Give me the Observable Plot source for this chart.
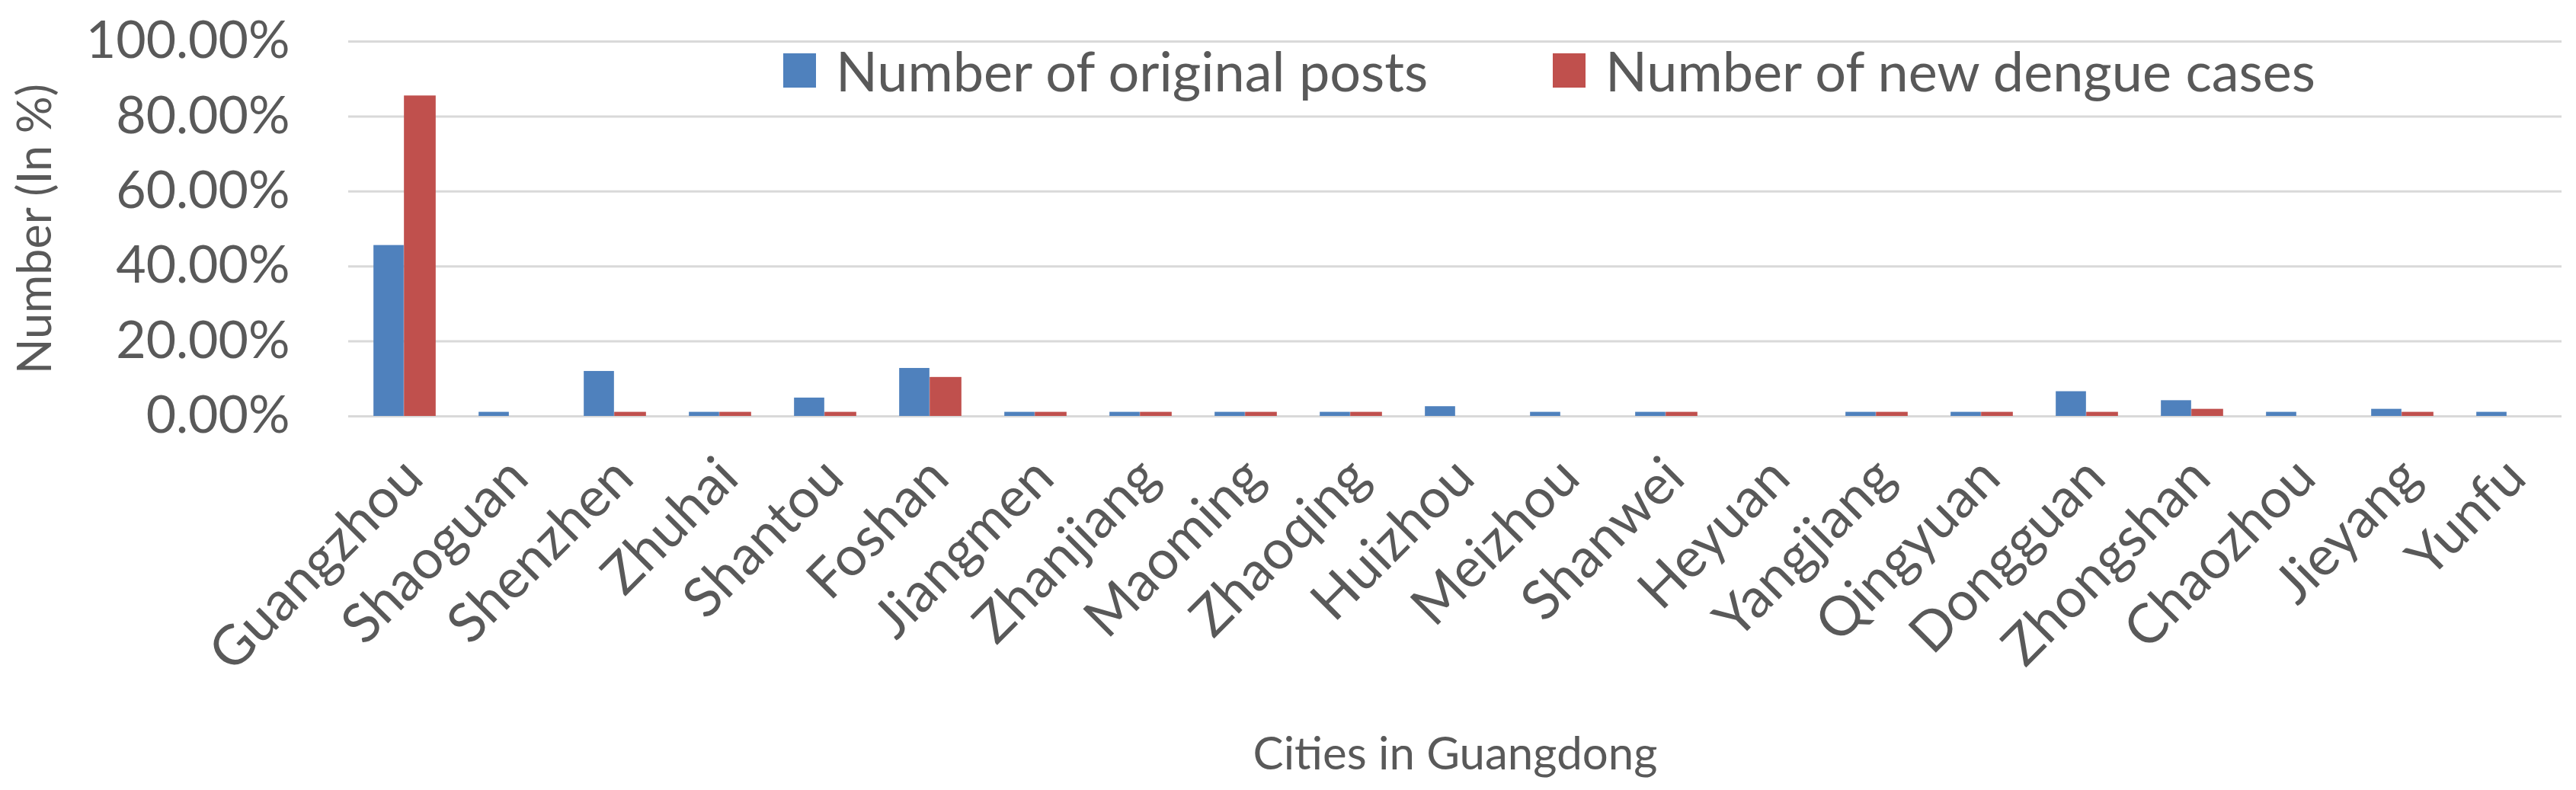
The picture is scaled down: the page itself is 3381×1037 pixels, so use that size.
<!DOCTYPE html>
<html><head><meta charset="utf-8">
<script src="https://cdn.jsdelivr.net/npm/d3@7"></script>
<script src="https://cdn.jsdelivr.net/npm/@observablehq/plot@0.6"></script>
<style>
html,body{margin:0;padding:0;background:#fff;overflow:hidden}
#wrap{position:relative;width:3381px;height:1037px}
.legend-item{position:absolute;top:56px;display:flex;align-items:center;font-family:Lato,sans-serif;font-size:72px;color:#595959;line-height:1;white-space:nowrap}
.swatch{width:43px;height:45px;margin-right:26px}
</style></head><body><div id="wrap"></div>
<script>
const cities = ["Guangzhou","Shaoguan","Shenzhen","Zhuhai","Shantou","Foshan","Jiangmen","Zhanjiang","Maoming","Zhaoqing","Huizhou","Meizhou","Shanwei","Heyuan","Yangjiang","Qingyuan","Dongguan","Zhongshan","Chaozhou","Jieyang","Yunfu"];
const posts = [45.6,1.1,12.0,1.1,4.9,12.8,1.1,1.1,1.1,1.1,2.6,1.1,1.1,0,1.1,1.1,6.6,4.2,1.1,1.9,1.1];
const cases = [85.5,0,1.1,1.1,1.1,10.4,1.1,1.1,1.1,1.1,0,0,1.1,0,1.1,1.1,1.1,1.9,0,1.1,0];
const seriesNames = ["Number of original posts","Number of new dengue cases"];
const seriesColors = ["#4F81BD","#C0504D"];
const yTicks = [0,20,40,60,80,100];
const xTitle = "Cities in Guangdong";
const yTitle = "Number (In %)";

const W = 3381, H = 1037, mL = 457, mR = 19, mT = 54, mB = 491;
const step = (W - mL - mR) / cities.length;
const rows = cities.map((c, i) => ({city: c, posts: posts[i], cases: cases[i]}));

const chart = Plot.plot({
  width: W, height: H,
  marginLeft: mL, marginRight: mR, marginTop: mT, marginBottom: mB,
  style: {fontFamily: "Lato, sans-serif", color: "#595959", background: "#fff"},
  x: {domain: cities, padding: 0, label: null},
  y: {domain: [0, 100], label: null},
  marks: [
    Plot.ruleY(yTicks, {stroke: "#d9d9d9", strokeWidth: 3}),
    Plot.barY(rows, {x: "city", y: "posts", fill: seriesColors[0], insetLeft: step / 2 - 40, insetRight: step / 2}),
    Plot.barY(rows, {x: "city", y: "cases", fill: seriesColors[1], insetLeft: step / 2, insetRight: step / 2 - 42}),
    Plot.axisY({ticks: yTicks, tickSize: 0, tickPadding: 77, tickFormat: d => d.toFixed(2) + "%", fontSize: 68, label: null}),
    Plot.axisX({tickSize: 0, tickRotate: -45, tickPadding: 68, fontSize: 72, label: null, dx: 12}),
    Plot.text([yTitle], {text: d => d, frameAnchor: "left", dx: -410, rotate: -90, fontSize: 61, textAnchor: "middle"}),
    Plot.text([xTitle], {text: d => d, frameAnchor: "bottom", dy: 421, lineAnchor: "top", fontSize: 60})
  ]
});
const wrap = document.getElementById("wrap");
wrap.appendChild(chart);

const legendLefts = [1028, 2038];
seriesNames.forEach((name, i) => {
  const item = document.createElement("div");
  item.className = "legend-item";
  item.style.left = legendLefts[i] + "px";
  const sw = document.createElement("div");
  sw.className = "swatch";
  sw.style.background = seriesColors[i];
  const tx = document.createElement("span");
  tx.textContent = name;
  item.appendChild(sw);
  item.appendChild(tx);
  wrap.appendChild(item);
});
</script></body></html>
